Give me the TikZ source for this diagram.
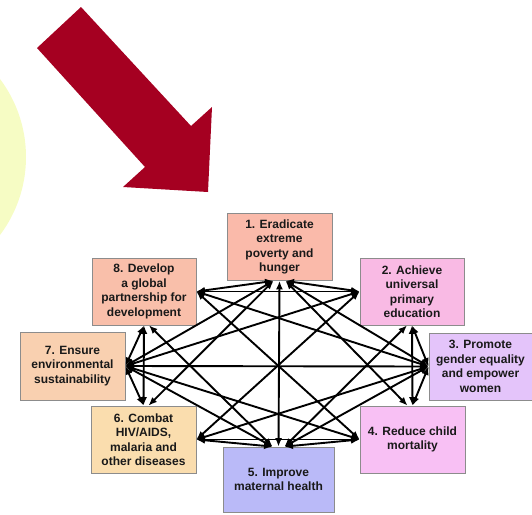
\documentclass[tikz,border=0pt]{standalone}
\usepackage{fontspec}
\setmainfont{Liberation Sans}
\usetikzlibrary{arrows.meta}

\definecolor{arrowred}{RGB}{165,0,33}
\definecolor{sunyellow}{RGB}{246,252,196}
\definecolor{goalA}{RGB}{250,186,170}
\definecolor{goalB}{RGB}{249,186,228}
\definecolor{goalC}{RGB}{228,196,250}
\definecolor{goalD}{RGB}{248,192,244}
\definecolor{goalE}{RGB}{186,186,248}
\definecolor{goalF}{RGB}{250,221,174}
\definecolor{goalG}{RGB}{249,208,176}
\definecolor{goalH}{RGB}{249,191,170}

\tikzset{
  goal/.style={draw=black!45, line width=0.8pt, minimum width=105pt, minimum height=67pt,
    align=center, inner sep=1pt, text=black!90, font=\bfseries\fontsize{12}{14.5}\selectfont},
  link/.style={{Latex[length=8.5pt,width=7pt]}-{Latex[length=8.5pt,width=7pt]}, line width=1.9pt}
}

\begin{document}
\begin{tikzpicture}[x=1pt, y=-1pt]
    \useasboundingbox (0,0) rectangle (532,514);

    % Tło
    \fill[sunyellow] (-104,157) circle (130pt);
    \fill[arrowred] (81,7) -- (191,126) -- (212,107) -- (208,192) -- (123,187) -- (145,167) -- (37,48) -- cycle;

    % Cele
    \node[goal, fill=goalA] (g1) at (279.5,247) {1. Eradicate\\extreme\\poverty and\\hunger};
    \node[goal, fill=goalB, minimum width=104pt] (g2) at (412,291.5) {2. Achieve\\universal\\primary\\education};
    \node[goal, fill=goalC, minimum width=103pt] (g3) at (480.5,366.5) {3. Promote\\gender equality\\and empower\\women};
    \node[goal, fill=goalD] (g4) at (412.5,439.5) {4. Reduce child\\mortality};
    \node[goal, fill=goalE, minimum width=111pt, minimum height=65pt] (g5) at (278.5,479.5) {5. Improve\\maternal health};
    \node[goal, fill=goalF] (g6) at (143.5,439.5) {6. Combat\\HIV/AIDS,\\malaria and\\other diseases};
    \node[goal, fill=goalG, minimum height=68pt] (g7) at (72.5,366) {7. Ensure\\environmental\\sustainability};
    \node[goal, fill=goalH, minimum width=104pt] (g8) at (144,291.5) {8. Develop\\a global\\partnership for\\development};

    % Punkty zaczepienia
    \coordinate (g1l) at ([xshift=-6pt]g1.south);
    \coordinate (g1m) at (g1.south);
    \coordinate (g1r) at ([xshift=6pt]g1.south);
    \coordinate (g5l) at ([xshift=-6pt]g5.north);
    \coordinate (g5m) at (g5.north);
    \coordinate (g5r) at ([xshift=6pt]g5.north);
    \coordinate (g8b) at (g8.south);
    \coordinate (g8c) at ([xshift=5pt]g8.south);
    \coordinate (g6t) at (g6.north);
    \coordinate (g6c) at ([xshift=5pt]g6.north);
    \coordinate (g2b) at (g2.south);
    \coordinate (g2c) at ([xshift=-5pt]g2.south);
    \coordinate (g4t) at (g4.north);
    \coordinate (g4c) at ([xshift=-5pt]g4.north);

    % Powiązania
    \draw[link] (g1r) -- (g2.west);
    \draw[link] (g1r) -- (g3.west);
    \draw[link] (g1r) -- (g4c);
    \draw[link] (g1m) -- (g5m);
    \draw[link] (g1l) -- (g6c);
    \draw[link] (g1l) -- (g7.east);
    \draw[link] (g1l) -- (g8.east);
    \draw[link] (g2b) -- (g3.west);
    \draw[link] (g2b) -- (g4t);
    \draw[link] (g2c) -- (g5r);
    \draw[link] (g2.west) -- (g6.east);
    \draw[link] (g2.west) -- (g7.east);
    \draw[link] (g2.west) -- (g8.east);
    \draw[link] (g3.west) -- (g4t);
    \draw[link] (g3.west) -- (g5r);
    \draw[link] (g3.west) -- (g6.east);
    \draw[link] (g3.west) -- (g7.east);
    \draw[link] (g3.west) -- (g8.east);
    \draw[link] (g4.west) -- (g5r);
    \draw[link] (g4.west) -- (g6.east);
    \draw[link] (g4.west) -- (g7.east);
    \draw[link] (g4.west) -- (g8.east);
    \draw[link] (g5l) -- (g6.east);
    \draw[link] (g5l) -- (g7.east);
    \draw[link] (g5l) -- (g8c);
    \draw[link] (g6t) -- (g7.east);
    \draw[link] (g6t) -- (g8b);
    \draw[link] (g7.east) -- (g8b);
\end{tikzpicture}
\end{document}
